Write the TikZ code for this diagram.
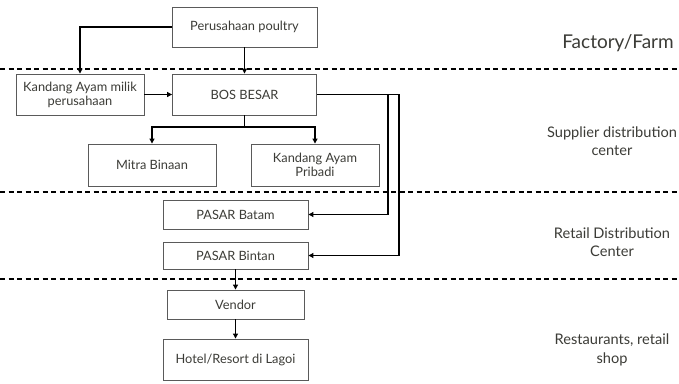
\documentclass[tikz,border=0pt]{standalone}
\usepackage{fontspec}
\setmainfont{Lato}
\usetikzlibrary{arrows.meta}
\definecolor{txt}{RGB}{60,60,55}
\definecolor{bord}{RGB}{90,90,90}
\begin{document}
\begin{tikzpicture}[x=1pt,y=-1pt,
  box/.style={draw=bord,line width=0.9pt,text=txt,font=\fontsize{12.8}{14}\selectfont,align=center,inner sep=1pt},
  conn/.style={line width=1.1pt,-{Triangle[length=5pt,width=5pt]}},
  plain/.style={line width=1.1pt},
  sep/.style={dashed,line width=1.8pt,dash pattern=on 5pt off 3.5pt},
  lab/.style={text=txt,align=center,font=\fontsize{14.6}{18.5}\selectfont}]
\useasboundingbox (0,0) rectangle (679,383);
\fill[white] (0,0) rectangle (679,383);
% separators
\coordinate (s1a) at (0,69); \coordinate (s1b) at (679,69);
\coordinate (s2a) at (0,192); \coordinate (s2b) at (679,192);
\coordinate (s3a) at (0,279); \coordinate (s3b) at (679,279);
\draw[sep] (s1a) -- (s1b);
\draw[sep] (s2a) -- (s2b);
\draw[sep] (s3a) -- (s3b);
% nodes
\node[box,minimum width=145pt,minimum height=40pt] (per) at (244.5,27) {Perusahaan poultry};
\node[box,minimum width=128pt,minimum height=41pt] (km) at (80,94.5) {Kandang Ayam milik\\perusahaan};
\node[box,minimum width=144pt,minimum height=41pt] (bos) at (244.5,94.5) {BOS BESAR};
\node[box,minimum width=128pt,minimum height=42pt] (mitra) at (152,165) {Mitra Binaan};
\node[box,minimum width=128pt,minimum height=42pt] (prib) at (315,165) {Kandang Ayam\\Pribadi};
\node[box,minimum width=145pt,minimum height=29pt] (batam) at (235.5,214.5) {PASAR Batam};
\node[box,minimum width=145pt,minimum height=27pt] (bintan) at (235.5,255.5) {PASAR Bintan};
\node[box,minimum width=137pt,minimum height=29pt] (vendor) at (235.5,304.5) {Vendor};
\node[box,minimum width=145pt,minimum height=41pt] (hotel) at (235.5,359.5) {Hotel/Resort di Lagoi};
% labels
\node[lab,font=\fontsize{19}{22}\selectfont] (l1) at (618,43) {Factory/Farm};
\node[lab] (l2) at (612,141) {Supplier distribution\\center};
\node[lab] (l3) at (612,242) {Retail Distribution\\Center};
\node[lab] (l4) at (612,350) {Restaurants, retail\\shop};
% connectors
\draw[conn] (per.west) -| (km.north);
\draw[conn] (per.south) -- (bos.north);
\draw[conn] (km.east) -- (bos.west);
\coordinate (split) at (244.5,127);
\draw[plain] (bos.south) -- (split);
\draw[conn] (split) -| (mitra.north);
\draw[conn] (split) -| (prib.north);
\coordinate (r1) at (388,94.5);
\coordinate (r2) at (399,94.5);
\draw[conn] (bos.east) -- (r2) |- (bintan.east);
\draw[conn] (r1) |- (batam.east);
\draw[conn] (bintan.south) -- (vendor.north);
\draw[conn] (vendor.south) -- (hotel.north);
\end{tikzpicture}
\end{document}
